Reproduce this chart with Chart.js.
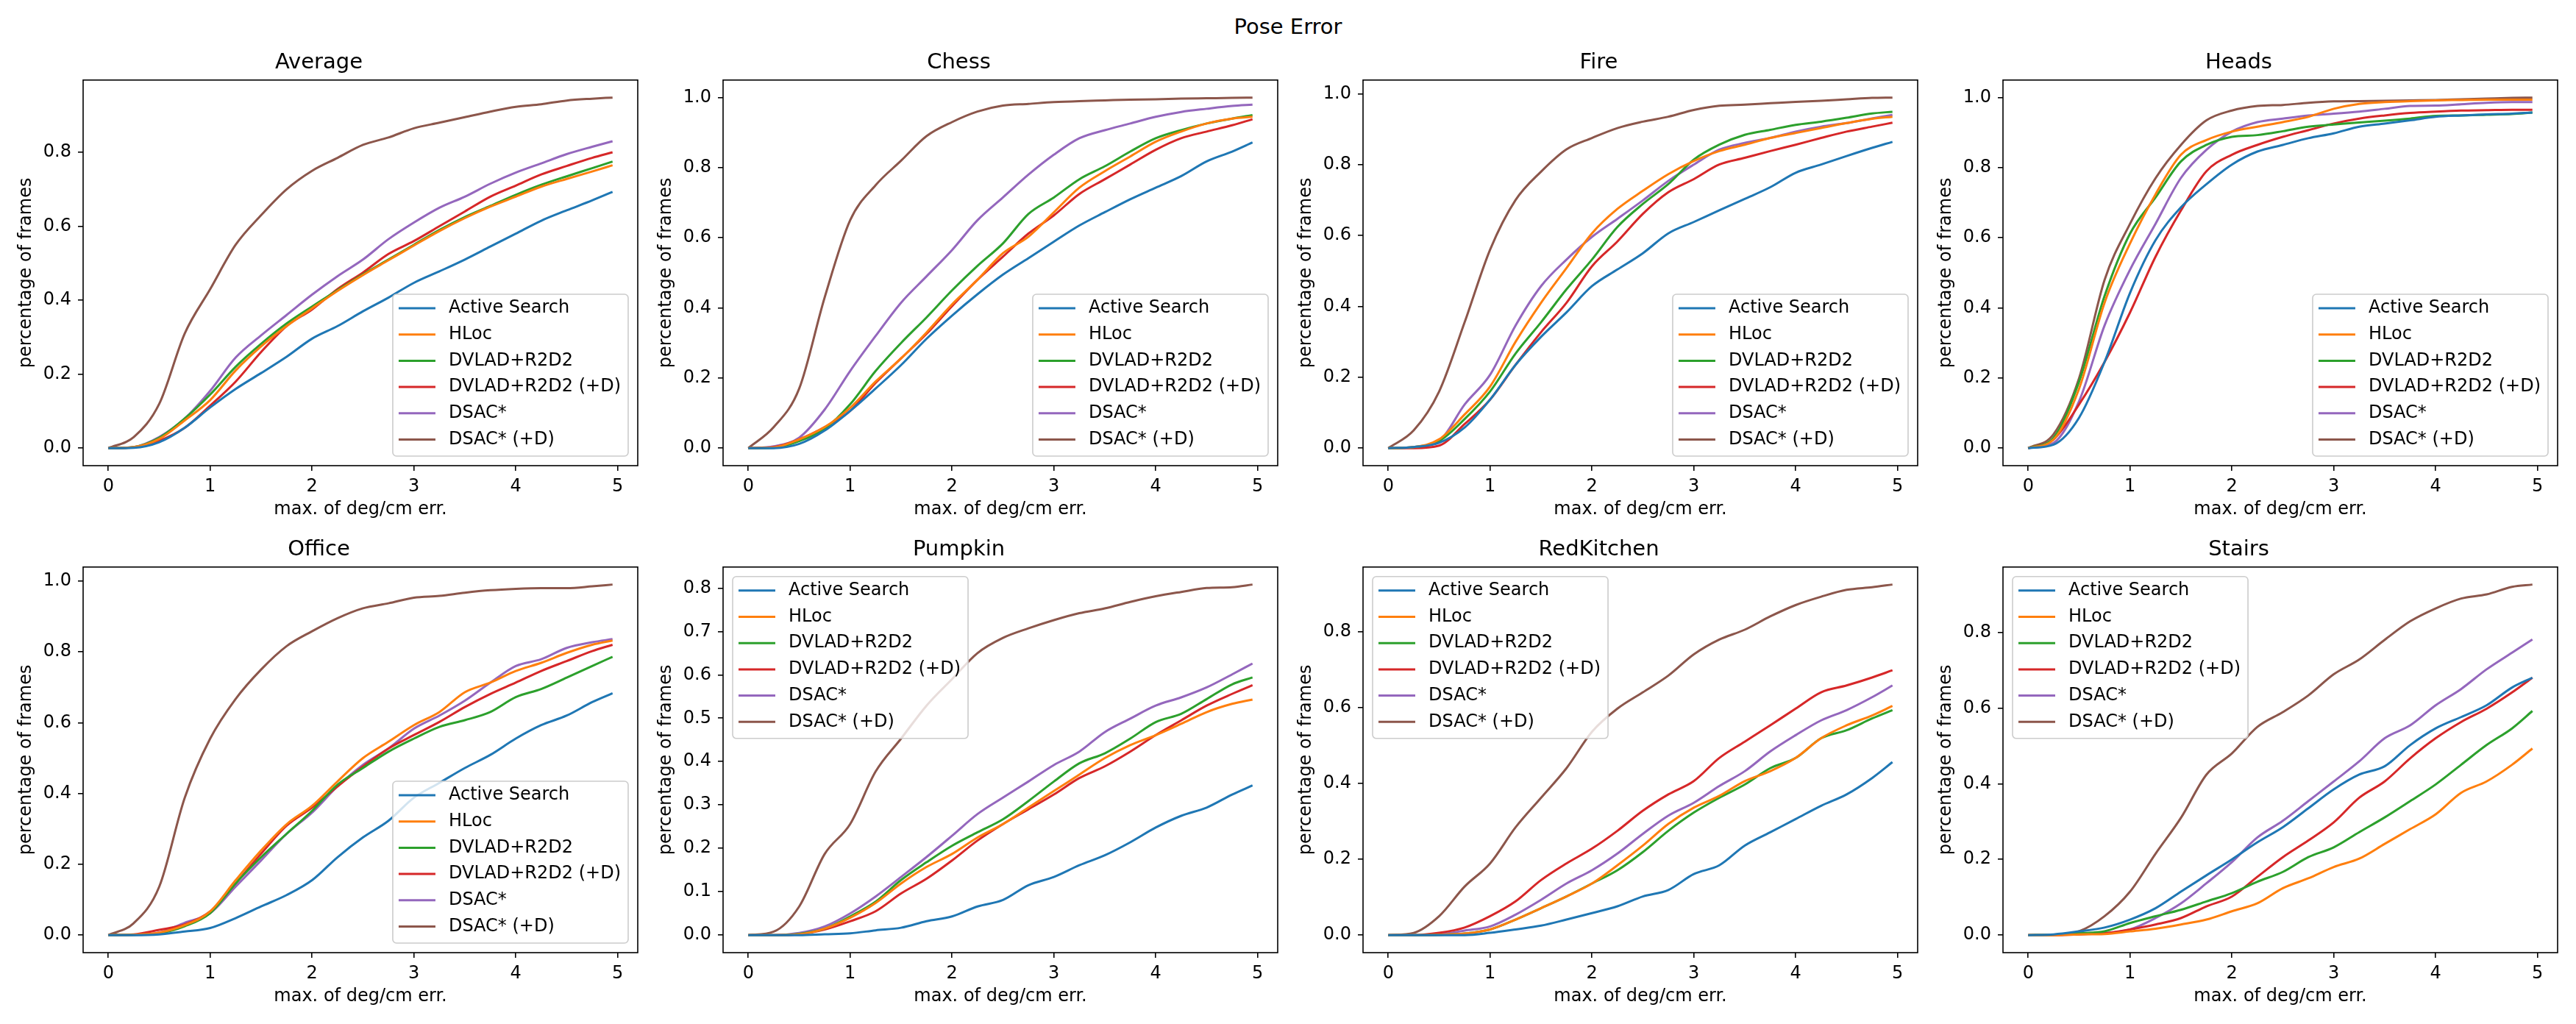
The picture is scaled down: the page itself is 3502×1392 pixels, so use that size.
<!DOCTYPE html>
<html>
<head>
<meta charset="utf-8">
<script src="https://cdn.jsdelivr.net/npm/chart.js@4.4.0/dist/chart.umd.min.js"></script>
<style>
  body { margin: 0; width: 3502px; height: 1392px; background: #fff; overflow: hidden; position: relative; font-family: "DejaVu Sans"; }
  #suptitle { position: absolute; left: 0; top: 18px; width: 3502px; text-align: center; font-size: 29px; line-height: 36px; color: #000; }
  canvas { position: absolute; }
</style>
</head>
<body>
<div id="suptitle">Pose Error</div>
<script>
// x positions (max. of deg/cm err.) where the curves were read
const errs = [0, 0.25, 0.5, 0.75, 1, 1.25, 1.5, 1.75, 2, 2.25, 2.5, 2.75, 3, 3.25, 3.5, 3.75, 4, 4.25, 4.5, 4.75, 4.95];

const methods = ['Active Search', 'HLoc', 'DVLAD+R2D2', 'DVLAD+R2D2 (+D)', 'DSAC*', 'DSAC* (+D)'];
const colors = ['#1f77b4', '#ff7f0e', '#2ca02c', '#d62728', '#9467bd', '#8c564b'];

const xTicks = [0, 1, 2, 3, 4, 5];
const yTicksCoarse = [0, 0.2, 0.4, 0.6, 0.8, 1.0];
const yTicksFine = [0, 0.1, 0.2, 0.3, 0.4, 0.5, 0.6, 0.7, 0.8];

// Average
const avgAS  = [0, 0.001, 0.016, 0.055, 0.11, 0.16, 0.203, 0.247, 0.296, 0.33, 0.37, 0.407, 0.447, 0.478, 0.51, 0.545, 0.58, 0.615, 0.643, 0.67, 0.693];
const avgHL  = [0, 0.003, 0.025, 0.075, 0.13, 0.21, 0.275, 0.33, 0.378, 0.425, 0.468, 0.508, 0.548, 0.587, 0.622, 0.653, 0.68, 0.707, 0.728, 0.748, 0.765];
const avgDV  = [0, 0.003, 0.028, 0.08, 0.145, 0.22, 0.282, 0.337, 0.383, 0.427, 0.47, 0.51, 0.55, 0.59, 0.625, 0.655, 0.685, 0.712, 0.735, 0.757, 0.775];
const avgDVD = [0, 0.002, 0.02, 0.055, 0.115, 0.18, 0.26, 0.33, 0.375, 0.43, 0.475, 0.525, 0.56, 0.6, 0.64, 0.68, 0.71, 0.74, 0.763, 0.785, 0.80];
const avgDS  = [0, 0.003, 0.03, 0.08, 0.155, 0.245, 0.305, 0.36, 0.415, 0.465, 0.51, 0.565, 0.61, 0.65, 0.68, 0.715, 0.745, 0.77, 0.795, 0.815, 0.83];
const avgDSD = [0, 0.03, 0.12, 0.31, 0.43, 0.55, 0.63, 0.70, 0.75, 0.785, 0.82, 0.84, 0.865, 0.88, 0.895, 0.91, 0.923, 0.93, 0.94, 0.945, 0.948];

// Chess
const chessAS  = [0, 0, 0.012, 0.05, 0.106, 0.17, 0.237, 0.312, 0.378, 0.439, 0.495, 0.542, 0.589, 0.635, 0.673, 0.71, 0.743, 0.776, 0.818, 0.846, 0.872];
const chessHL  = [0, 0.002, 0.025, 0.06, 0.115, 0.19, 0.256, 0.33, 0.41, 0.48, 0.556, 0.603, 0.673, 0.743, 0.79, 0.832, 0.874, 0.903, 0.926, 0.94, 0.945];
const chessDV  = [0, 0.001, 0.02, 0.055, 0.125, 0.22, 0.30, 0.373, 0.45, 0.52, 0.584, 0.668, 0.715, 0.767, 0.804, 0.846, 0.884, 0.907, 0.926, 0.94, 0.95];
const chessDVD = [0, 0.003, 0.025, 0.06, 0.106, 0.186, 0.256, 0.326, 0.405, 0.48, 0.546, 0.612, 0.664, 0.725, 0.767, 0.809, 0.851, 0.884, 0.903, 0.921, 0.938];
const chessDS  = [0, 0.005, 0.03, 0.11, 0.22, 0.32, 0.415, 0.49, 0.565, 0.65, 0.715, 0.78, 0.837, 0.884, 0.907, 0.926, 0.945, 0.959, 0.968, 0.976, 0.98];
const chessDSD = [0, 0.06, 0.17, 0.43, 0.65, 0.75, 0.82, 0.89, 0.93, 0.96, 0.977, 0.982, 0.987, 0.99, 0.992, 0.994, 0.995, 0.997, 0.998, 0.999, 1.0];

// Fire
const fireAS  = [0, 0.003, 0.015, 0.058, 0.137, 0.235, 0.314, 0.383, 0.457, 0.504, 0.55, 0.606, 0.638, 0.671, 0.703, 0.736, 0.777, 0.80, 0.824, 0.847, 0.864];
const fireHL  = [0, 0.003, 0.025, 0.095, 0.174, 0.30, 0.41, 0.508, 0.606, 0.675, 0.726, 0.773, 0.81, 0.838, 0.856, 0.875, 0.889, 0.903, 0.917, 0.929, 0.935];
const fireDV  = [0, 0.003, 0.02, 0.082, 0.16, 0.267, 0.355, 0.448, 0.532, 0.624, 0.689, 0.745, 0.814, 0.856, 0.884, 0.898, 0.912, 0.921, 0.932, 0.944, 0.949];
const fireDVD = [0, 0, 0.007, 0.068, 0.137, 0.235, 0.327, 0.41, 0.513, 0.583, 0.661, 0.722, 0.759, 0.80, 0.819, 0.838, 0.856, 0.875, 0.893, 0.907, 0.918];
const fireDS  = [0, 0.003, 0.02, 0.123, 0.207, 0.346, 0.457, 0.532, 0.596, 0.647, 0.699, 0.754, 0.80, 0.842, 0.861, 0.875, 0.893, 0.907, 0.917, 0.93, 0.94];
const fireDSD = [0, 0.05, 0.16, 0.355, 0.56, 0.70, 0.78, 0.843, 0.875, 0.903, 0.921, 0.935, 0.954, 0.966, 0.969, 0.973, 0.977, 0.98, 0.984, 0.988, 0.989];

// Heads
const headsAS  = [0, 0.01, 0.087, 0.246, 0.443, 0.593, 0.687, 0.753, 0.809, 0.846, 0.865, 0.884, 0.898, 0.917, 0.926, 0.935, 0.945, 0.949, 0.952, 0.954, 0.957];
const headsHL  = [0, 0.025, 0.17, 0.415, 0.584, 0.724, 0.837, 0.879, 0.903, 0.917, 0.93, 0.945, 0.968, 0.982, 0.987, 0.99, 0.992, 0.993, 0.994, 0.994, 0.994];
const headsDV  = [0, 0.03, 0.19, 0.434, 0.612, 0.715, 0.818, 0.865, 0.888, 0.893, 0.904, 0.917, 0.923, 0.929, 0.934, 0.94, 0.948, 0.949, 0.951, 0.953, 0.957];
const headsDVD = [0, 0.025, 0.125, 0.246, 0.387, 0.546, 0.678, 0.79, 0.837, 0.865, 0.888, 0.907, 0.926, 0.94, 0.949, 0.956, 0.96, 0.963, 0.964, 0.965, 0.965];
const headsDS  = [0, 0.015, 0.134, 0.35, 0.509, 0.64, 0.771, 0.851, 0.903, 0.93, 0.94, 0.949, 0.954, 0.96, 0.968, 0.976, 0.977, 0.981, 0.985, 0.987, 0.987];
const headsDSD = [0, 0.04, 0.2, 0.48, 0.64, 0.77, 0.865, 0.935, 0.963, 0.976, 0.979, 0.985, 0.989, 0.99, 0.991, 0.992, 0.993, 0.995, 0.997, 0.999, 1.0];

// Office
const officeAS  = [0, 0, 0.002, 0.01, 0.02, 0.048, 0.081, 0.113, 0.155, 0.22, 0.276, 0.323, 0.388, 0.43, 0.472, 0.509, 0.555, 0.593, 0.62, 0.658, 0.683];
const officeHL  = [0, 0.001, 0.007, 0.028, 0.067, 0.155, 0.239, 0.313, 0.365, 0.434, 0.50, 0.546, 0.593, 0.63, 0.686, 0.713, 0.746, 0.769, 0.797, 0.82, 0.832];
const officeDV  = [0, 0.001, 0.005, 0.025, 0.062, 0.146, 0.22, 0.286, 0.351, 0.425, 0.472, 0.518, 0.555, 0.588, 0.607, 0.63, 0.672, 0.695, 0.727, 0.76, 0.786];
const officeDVD = [0, 0.002, 0.015, 0.03, 0.067, 0.146, 0.23, 0.309, 0.36, 0.42, 0.476, 0.527, 0.565, 0.602, 0.644, 0.681, 0.713, 0.746, 0.774, 0.802, 0.82];
const officeDS  = [0, 0.001, 0.007, 0.035, 0.062, 0.137, 0.211, 0.286, 0.346, 0.42, 0.481, 0.527, 0.583, 0.62, 0.662, 0.713, 0.76, 0.779, 0.811, 0.827, 0.836];
const officeDSD = [0, 0.034, 0.137, 0.388, 0.555, 0.667, 0.75, 0.816, 0.858, 0.895, 0.923, 0.937, 0.953, 0.958, 0.967, 0.974, 0.978, 0.98, 0.98, 0.985, 0.99];

// Pumpkin
const pumpkinAS  = [0, 0, 0, 0.002, 0.004, 0.011, 0.017, 0.032, 0.043, 0.066, 0.081, 0.115, 0.134, 0.161, 0.184, 0.214, 0.248, 0.275, 0.294, 0.324, 0.345];
const pumpkinHL  = [0, 0, 0.002, 0.015, 0.04, 0.074, 0.119, 0.157, 0.187, 0.225, 0.256, 0.294, 0.332, 0.37, 0.408, 0.438, 0.461, 0.487, 0.514, 0.533, 0.543];
const pumpkinDV  = [0, 0, 0.003, 0.015, 0.043, 0.077, 0.127, 0.168, 0.206, 0.237, 0.267, 0.309, 0.354, 0.396, 0.419, 0.453, 0.491, 0.51, 0.544, 0.578, 0.594];
const pumpkinDVD = [0, 0, 0.002, 0.013, 0.032, 0.055, 0.096, 0.13, 0.172, 0.218, 0.256, 0.29, 0.324, 0.362, 0.389, 0.423, 0.461, 0.495, 0.529, 0.556, 0.576];
const pumpkinDS  = [0, 0, 0.005, 0.02, 0.05, 0.089, 0.134, 0.18, 0.229, 0.279, 0.317, 0.354, 0.392, 0.423, 0.468, 0.499, 0.529, 0.548, 0.571, 0.601, 0.626];
const pumpkinDSD = [0, 0.008, 0.066, 0.187, 0.256, 0.377, 0.453, 0.529, 0.59, 0.65, 0.685, 0.707, 0.726, 0.742, 0.753, 0.768, 0.781, 0.791, 0.80, 0.802, 0.808];

// RedKitchen
const kitchenAS  = [0, 0, 0, 0, 0.006, 0.015, 0.025, 0.041, 0.058, 0.076, 0.102, 0.119, 0.161, 0.184, 0.236, 0.271, 0.306, 0.341, 0.371, 0.414, 0.456];
const kitchenHL  = [0, 0, 0.001, 0.004, 0.015, 0.041, 0.071, 0.102, 0.136, 0.184, 0.236, 0.293, 0.336, 0.367, 0.406, 0.432, 0.467, 0.519, 0.553, 0.579, 0.604];
const kitchenDV  = [0, 0, 0.001, 0.004, 0.015, 0.041, 0.071, 0.102, 0.136, 0.171, 0.219, 0.275, 0.323, 0.362, 0.397, 0.44, 0.467, 0.519, 0.54, 0.571, 0.593];
const kitchenDVD = [0, 0, 0.006, 0.02, 0.05, 0.089, 0.145, 0.189, 0.228, 0.275, 0.328, 0.371, 0.406, 0.467, 0.51, 0.553, 0.597, 0.64, 0.658, 0.679, 0.698];
const kitchenDS  = [0, 0, 0.002, 0.012, 0.023, 0.054, 0.093, 0.136, 0.171, 0.215, 0.267, 0.315, 0.349, 0.393, 0.432, 0.484, 0.527, 0.566, 0.593, 0.627, 0.658];
const kitchenDSD = [0, 0.006, 0.05, 0.128, 0.189, 0.284, 0.362, 0.44, 0.536, 0.597, 0.64, 0.684, 0.74, 0.779, 0.805, 0.84, 0.87, 0.892, 0.91, 0.917, 0.924];

// Stairs
const stairsAS  = [0, 0.002, 0.01, 0.02, 0.041, 0.071, 0.115, 0.158, 0.2, 0.245, 0.285, 0.335, 0.385, 0.424, 0.446, 0.502, 0.546, 0.576, 0.607, 0.654, 0.68];
const stairsHL  = [0, 0, 0.002, 0.003, 0.01, 0.017, 0.028, 0.041, 0.063, 0.084, 0.124, 0.15, 0.18, 0.202, 0.241, 0.28, 0.319, 0.376, 0.406, 0.45, 0.493];
const stairsDV  = [0, 0.001, 0.005, 0.01, 0.032, 0.05, 0.067, 0.089, 0.111, 0.141, 0.167, 0.206, 0.232, 0.272, 0.311, 0.354, 0.398, 0.45, 0.502, 0.546, 0.592];
const stairsDVD = [0, 0, 0.002, 0.005, 0.015, 0.028, 0.045, 0.076, 0.102, 0.154, 0.206, 0.25, 0.298, 0.363, 0.406, 0.467, 0.52, 0.563, 0.598, 0.641, 0.68];
const stairsDS  = [0, 0, 0.003, 0.005, 0.015, 0.045, 0.084, 0.137, 0.193, 0.258, 0.302, 0.354, 0.406, 0.459, 0.52, 0.554, 0.607, 0.65, 0.702, 0.746, 0.781];
const stairsDSD = [0, 0.001, 0.01, 0.05, 0.115, 0.215, 0.31, 0.424, 0.48, 0.55, 0.589, 0.633, 0.689, 0.728, 0.78, 0.829, 0.863, 0.889, 0.9, 0.92, 0.926];

const panels = [
  { name: 'Average',    series: [avgAS, avgHL, avgDV, avgDVD, avgDS, avgDSD],                          yTicks: yTicksCoarse, corner: 'lr' },
  { name: 'Chess',      series: [chessAS, chessHL, chessDV, chessDVD, chessDS, chessDSD],              yTicks: yTicksCoarse, corner: 'lr' },
  { name: 'Fire',       series: [fireAS, fireHL, fireDV, fireDVD, fireDS, fireDSD],                    yTicks: yTicksCoarse, corner: 'lr' },
  { name: 'Heads',      series: [headsAS, headsHL, headsDV, headsDVD, headsDS, headsDSD],              yTicks: yTicksCoarse, corner: 'lr' },
  { name: 'Office',     series: [officeAS, officeHL, officeDV, officeDVD, officeDS, officeDSD],        yTicks: yTicksCoarse, corner: 'lr' },
  { name: 'Pumpkin',    series: [pumpkinAS, pumpkinHL, pumpkinDV, pumpkinDVD, pumpkinDS, pumpkinDSD],  yTicks: yTicksFine,   corner: 'ul' },
  { name: 'RedKitchen', series: [kitchenAS, kitchenHL, kitchenDV, kitchenDVD, kitchenDS, kitchenDSD],  yTicks: yTicksCoarse, corner: 'ul' },
  { name: 'Stairs',     series: [stairsAS, stairsHL, stairsDV, stairsDVD, stairsDS, stairsDSD],        yTicks: yTicksCoarse, corner: 'ul' }
];

Chart.defaults.font.family = '"DejaVu Sans"';
Chart.defaults.color = '#000';

// axes frame + matplotlib style legend box
const mplFrame = {
  id: 'mplFrame',
  afterDraw(chart, args, opts) {
    const ctx = chart.ctx;
    const a = chart.chartArea;
    ctx.save();
    ctx.strokeStyle = '#000';
    ctx.lineWidth = 1.6;
    ctx.strokeRect(a.left, a.top, a.right - a.left, a.bottom - a.top);

    const fs = 24, rowH = 35.7, lineLen = 50, padL = 8, gap = 18;
    ctx.font = fs + 'px "DejaVu Sans"';
    const labels = chart.data.datasets.map(d => d.label);
    const tw = Math.max(...labels.map(l => ctx.measureText(l).width));
    const w = padL + lineLen + gap + tw + 10;
    const h = 19 + 5 * rowH + 22.5;
    let x0, y0;
    if (opts.corner === 'lr') {
      x0 = a.right - 13 - w;
      y0 = a.bottom - 13 - h;
    } else {
      x0 = a.left + 13;
      y0 = a.top + 13;
    }
    const r = 5;
    ctx.beginPath();
    ctx.moveTo(x0 + r, y0);
    ctx.lineTo(x0 + w - r, y0);
    ctx.arcTo(x0 + w, y0, x0 + w, y0 + r, r);
    ctx.lineTo(x0 + w, y0 + h - r);
    ctx.arcTo(x0 + w, y0 + h, x0 + w - r, y0 + h, r);
    ctx.lineTo(x0 + r, y0 + h);
    ctx.arcTo(x0, y0 + h, x0, y0 + h - r, r);
    ctx.lineTo(x0, y0 + r);
    ctx.arcTo(x0, y0, x0 + r, y0, r);
    ctx.closePath();
    ctx.fillStyle = 'rgba(255,255,255,0.8)';
    ctx.fill();
    ctx.strokeStyle = '#cccccc';
    ctx.lineWidth = 1.6;
    ctx.stroke();

    ctx.textBaseline = 'middle';
    ctx.textAlign = 'left';
    chart.data.datasets.forEach((d, i) => {
      const y = y0 + 19 + i * rowH;
      ctx.strokeStyle = d.borderColor;
      ctx.lineWidth = 3;
      ctx.beginPath();
      ctx.moveTo(x0 + padL, y);
      ctx.lineTo(x0 + padL + lineLen, y);
      ctx.stroke();
      ctx.fillStyle = '#000';
      ctx.fillText(d.label, x0 + padL + lineLen + gap, y);
    });
    ctx.restore();
  }
};

const colLeft = [0, 870, 1740, 2610];
const rowTop = [58, 720];

panels.forEach((p, k) => {
  const canvas = document.createElement('canvas');
  canvas.width = 980;
  canvas.height = 655;
  canvas.style.left = colLeft[k % 4] + 'px';
  canvas.style.top = rowTop[Math.floor(k / 4)] + 'px';
  document.body.appendChild(canvas);

  const ymax = Math.max(...p.series.map(s => Math.max(...s)));
  const xmin = errs[0], xmax = errs[errs.length - 1];
  const xpad = 0.05 * (xmax - xmin);

  new Chart(canvas, {
    type: 'line',
    data: {
      datasets: p.series.map((s, i) => ({
        label: methods[i],
        data: errs.map((x, j) => ({ x: x, y: s[j] })),
        borderColor: colors[i],
        backgroundColor: colors[i],
        borderWidth: 3,
        pointRadius: 0,
        fill: false,
        cubicInterpolationMode: 'monotone'
      }))
    },
    options: {
      responsive: false,
      animation: false,
      layout: { padding: { top: 10, left: 0, right: 113, bottom: 0 } },
      plugins: {
        legend: { display: false },
        tooltip: { enabled: false },
        title: {
          display: true,
          text: p.name,
          font: { size: 29, weight: 'normal' },
          padding: { top: 0, bottom: 6 },
          color: '#000'
        },
        mplFrame: { corner: p.corner }
      },
      scales: {
        x: {
          type: 'linear',
          min: xmin - xpad,
          max: xmax + xpad,
          afterBuildTicks: s => { s.ticks = xTicks.map(v => ({ value: v })); },
          afterFit: s => { s.height = 80; },
          ticks: { font: { size: 24 }, padding: 7, color: '#000', callback: v => String(v) },
          grid: { drawOnChartArea: false, drawTicks: true, tickLength: 7, color: '#000', lineWidth: 1.6 },
          border: { display: false },
          title: { display: true, text: 'max. of deg/cm err.', font: { size: 24 }, padding: { top: 0, bottom: 6 }, color: '#000' }
        },
        y: {
          type: 'linear',
          min: -0.05 * ymax,
          max: 1.05 * ymax,
          afterBuildTicks: s => { s.ticks = p.yTicks.filter(v => v <= s.max).map(v => ({ value: v })); },
          afterFit: s => { s.width = 113; },
          ticks: { font: { size: 24 }, padding: 9, color: '#000', callback: v => v.toFixed(1) },
          grid: { drawOnChartArea: false, drawTicks: true, tickLength: 7, color: '#000', lineWidth: 1.6 },
          border: { display: false },
          title: { display: true, text: 'percentage of frames', font: { size: 24 }, padding: { top: 21, bottom: 0 }, color: '#000' }
        }
      }
    },
    plugins: [mplFrame]
  });
});
</script>
</body>
</html>
